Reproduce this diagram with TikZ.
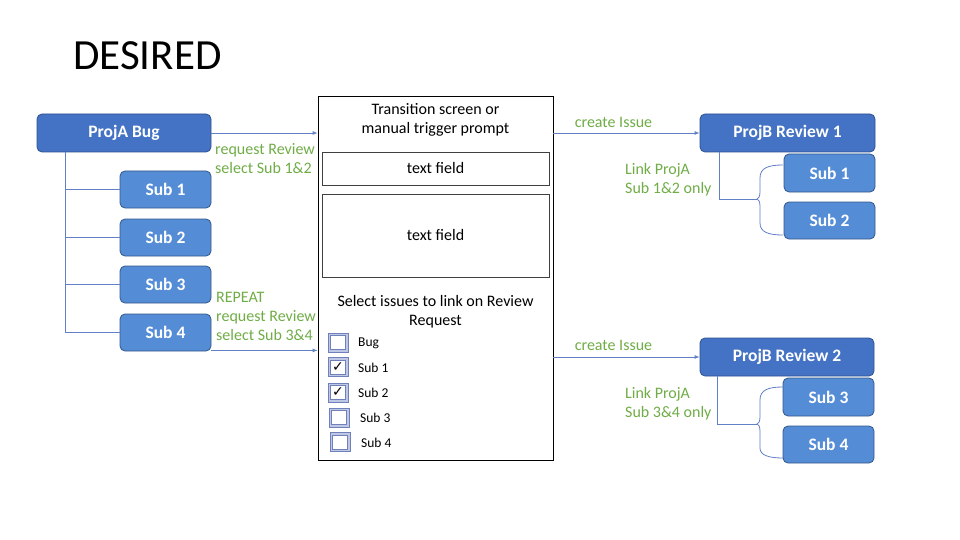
\documentclass[tikz,border=0pt]{standalone}
\usepackage{fontspec}
\setmainfont{Carlito}
\newfontfamily\symfont{DejaVu Sans}
\usetikzlibrary{calc,arrows.meta}
\definecolor{darkblue}{RGB}{68,114,196}
\definecolor{darkblueedge}{RGB}{47,82,143}
\definecolor{subblue}{RGB}{84,140,214}
\definecolor{subedge}{RGB}{52,88,140}
\definecolor{linkblue}{RGB}{98,128,198}
\definecolor{greentxt}{RGB}{112,173,71}
\definecolor{cbedge}{RGB}{112,128,186}
\definecolor{cbfill}{RGB}{190,199,228}
\tikzset{
  bigbox/.style={draw=darkblueedge, fill=darkblue, rounded corners=5pt, line width=0.8pt,
    text=white, font=\fontsize{17.5}{20}\selectfont\bfseries, minimum width=174pt, minimum height=38pt, inner sep=0pt},
  subbox/.style={draw=subedge, fill=subblue, rounded corners=5pt, line width=0.8pt,
    text=white, font=\fontsize{17.5}{20}\selectfont\bfseries, minimum width=91pt, minimum height=37pt, inner sep=0pt},
  panelbox/.style={draw=black, line width=0.8pt, inner sep=0pt},
  fieldbox/.style={draw=black!75, line width=0.8pt, minimum width=227pt, inner sep=0pt, font=\fontsize{16}{19}\selectfont},
  plaintxt/.style={font=\fontsize{16}{19}\selectfont, inner sep=0pt, align=center},
  greenlbl/.style={text=greentxt, font=\fontsize{16}{19}\selectfont, inner sep=0pt, align=left},
  cbox/.style={draw=cbedge, line width=0.7pt, fill=cbfill,
    minimum width=20pt, minimum height=19pt, inner sep=0pt,
    path picture={\draw[cbedge, line width=0.6pt, fill=white]
      ($(path picture bounding box.south west)+(2.6,-2.6)$) rectangle
      ($(path picture bounding box.north east)+(-2.6,2.6)$);}},
  ckmark/.style={font=\symfont\fontsize{14}{14}\selectfont},
  cblbl/.style={font=\fontsize{13.5}{16}\selectfont, inner sep=0pt, anchor=west},
  arr/.style={draw=linkblue, line width=0.8pt, -{Latex[length=5pt,width=4pt]}},
  tree/.style={draw=linkblue, line width=0.8pt},
}
\begin{document}
\begin{tikzpicture}[x=1pt,y=-1pt]
\useasboundingbox[fill=white] (0,0) rectangle (960,540);

% title
\node[anchor=base west, inner sep=0pt, font=\fontsize{43}{50}\selectfont] (title) at (73,70) {DESIRED};

% left tree
\node[bigbox] (pa) at (124,133) {ProjA Bug};
\node[subbox] (s1) at (165.5,189.5) {Sub 1};
\node[subbox] (s2) at (165.5,237.5) {Sub 2};
\node[subbox] (s3) at (165.5,284.5) {Sub 3};
\node[subbox] (s4) at (165.5,332.5) {Sub 4};
\coordinate (tr) at ($(pa.south west)+(29,0)$);
\draw[tree] (tr) |- (s4.west);
\draw[tree] (tr |- s1.west) -- (s1.west);
\draw[tree] (tr |- s2.west) -- (s2.west);
\draw[tree] (tr |- s3.west) -- (s3.west);

% panel
\node[panelbox, minimum width=235pt, minimum height=364pt] (panel) at (435.5,278) {};
\node[plaintxt] (ptitle) at (435.5,120) {Transition screen or\\manual trigger prompt};
\node[fieldbox, minimum height=33pt] (tf1) at (435.5,168.5) {text field};
\node[fieldbox, minimum height=83pt] (tf2) at (435.5,235.5) {text field};
\node[plaintxt] (sel) at (435.5,312) {Select issues to link on Review\\Request};

\node[cbox] (cb0) at (338,342.5) {};
\node[cbox] (cb1) at (338,367) {};
\node[cbox] (cb2) at (338,392.5) {};
\node[cbox] (cb3) at (339,417.5) {};
\node[cbox] (cb4) at (340,442) {};
\node[ckmark] (m1) at (cb1) {✓};
\node[ckmark] (m2) at (cb2) {✓};
\node[cblbl] (l0) at (358,343) {Bug};
\node[cblbl] (l1) at (358,368) {Sub 1};
\node[cblbl] (l2) at (358,393) {Sub 2};
\node[cblbl] (l3) at (360,418) {Sub 3};
\node[cblbl] (l4) at (361,443) {Sub 4};

% left arrows
\draw[arr] (pa.east) -- (pa.east -| panel.west);
\coordinate (a4) at ($(s4.south east)+(0,-1)$);
\draw[arr] (a4) -- (a4 -| panel.west);
\node[greenlbl, anchor=west] (g1) at (215,159) {request Review\\select Sub 1\&2};
\node[greenlbl, anchor=west] (g2) at (216,316) {REPEAT\\request Review\\select Sub 3\&4};

% right side
\node[bigbox, minimum width=175pt] (pb1) at (787.5,133) {ProjB Review 1};
\node[subbox, minimum height=38pt] (rs1) at (829.5,173) {Sub 1};
\node[subbox] (rs2) at (829.5,220.5) {Sub 2};
\node[bigbox] (pb2) at (787,357) {ProjB Review 2};
\node[subbox, minimum height=38pt] (rs3) at (828.5,397) {Sub 3};
\node[subbox] (rs4) at (828.5,444.5) {Sub 4};

\draw[arr] (pb1.west -| panel.east) -- (pb1.west);
\draw[arr] (pb2.west -| panel.east) -- (pb2.west);
\node[greenlbl] (c1) at (613.5,122) {create Issue};
\node[greenlbl] (c2) at (613.5,345) {create Issue};

\node[greenlbl, anchor=west] (k1) at (625,179.5) {Link ProjA\\Sub 1\&2 only};
\node[greenlbl, anchor=west] (k2) at (625,404) {Link ProjA\\Sub 3\&4 only};

% link lines and braces
\coordinate (cusp1) at (757,199);
\draw[tree] ($(pb1.south west)+(20,0)$) |- (cusp1);
\draw[tree] (783,165) .. controls (768,165) and (760,168) .. (760,178) -- (760,192)
  .. controls (760,197) and (758,199) .. (cusp1)
  .. controls (758,199) and (760,201) .. (760,206) -- (760,223)
  .. controls (760,232) and (768,235) .. (783,235);

\coordinate (cusp2) at (757,424);
\draw[tree] ($(pb2.south west)+(18,0)$) |- (cusp2);
\draw[tree] (783,387) .. controls (768,387) and (760,390) .. (760,400) -- (760,417)
  .. controls (760,422) and (758,424) .. (cusp2)
  .. controls (758,424) and (760,426) .. (760,431) -- (760,448)
  .. controls (760,455) and (768,458) .. (783,458);
\end{tikzpicture}
\end{document}
